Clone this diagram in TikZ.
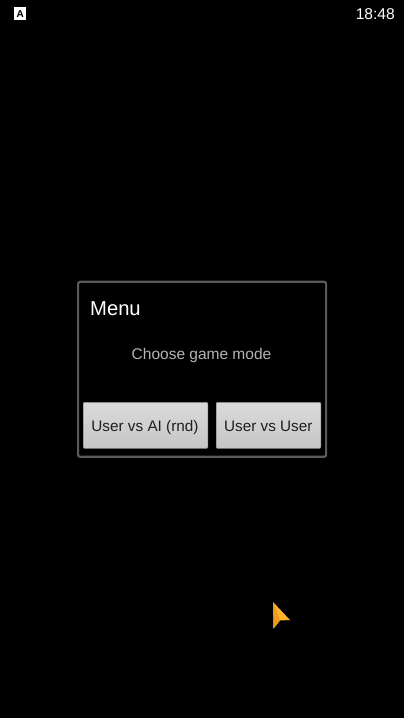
\documentclass[tikz,border=0pt]{standalone}
\usepackage{fontspec}
\setmainfont{Liberation Sans}
\definecolor{dlgedge}{HTML}{5A5A5A}
\definecolor{btnedge}{HTML}{8A8A8A}
\definecolor{btntop}{HTML}{DADADA}
\definecolor{btnbot}{HTML}{C6C6C6}
\definecolor{msgtext}{HTML}{B4B4B4}
\definecolor{btntext}{HTML}{1E1E1E}
\definecolor{curlight}{HTML}{FFB22E}
\definecolor{curdark}{HTML}{F09A1C}
\tikzset{
  btnbox/.style={inner sep=0pt,rounded corners=1pt,draw=btnedge,line width=.5pt,
    top color=btntop,bottom color=btnbot,anchor=north west},
  btnlabel/.style={inner sep=0pt,text=btntext,font=\fontsize{15.3}{17}\selectfont,anchor=base},
  plain/.style={inner sep=0pt}
}
\begin{document}
\begin{tikzpicture}[x=1pt,y=-1pt]
\useasboundingbox (0,0) rectangle (404,718);
\fill[black] (0,0) rectangle (404,718);
% status bar
\node[plain,fill=white,minimum width=12pt,minimum height=13pt,anchor=north west,text=black,font=\bfseries\fontsize{10}{10}\selectfont] (icon) at (14,7) {A};
\node[plain,text=white,font=\fontsize{15.6}{17}\selectfont,anchor=base east] (clock) at (395,19.5) {18:48};
% dialog
\node[plain,draw=dlgedge,line width=2.2pt,rounded corners=2pt,minimum width=248pt,minimum height=175pt,anchor=north west] (dialog) at (77,280.7) {};
\node[plain,text=white,font=\fontsize{20.2}{23}\selectfont,anchor=base west] (title) at (90,315) {Menu};
\node[plain,text=msgtext,font=\fontsize{15.5}{18}\selectfont,anchor=base] (msg) at (201.5,359.5) {Choose game mode};
\node[btnbox,minimum width=124.5pt,minimum height=46pt] (b1) at (83,402) {};
\node[btnbox,minimum width=104.5pt,minimum height=46pt] (b2) at (216,402) {};
\node[btnlabel] (t1) at (145,431) {User vs AI (rnd)};
\node[btnlabel] (t2) at (268.3,431) {User vs User};
% cursor
\fill[curlight] (273,602) -- (290,620) -- (280,620.5) -- (273.5,628.5) -- cycle;
\fill[curdark] (273,602) -- (280,620.5) -- (273.5,628.5) -- cycle;
\end{tikzpicture}
\end{document}
